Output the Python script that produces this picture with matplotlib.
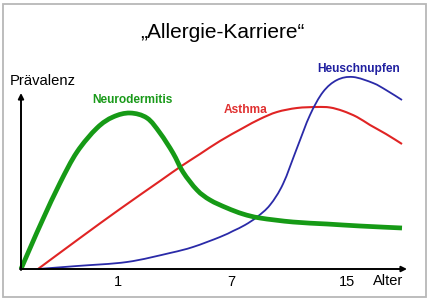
import matplotlib
matplotlib.use("Agg")
import matplotlib.pyplot as plt
from matplotlib.patches import Rectangle, PathPatch
from matplotlib.path import Path

plt.rcParams['font.family'] = ['Liberation Sans', 'DejaVu Sans']

# Werte (x: Achsenposition, y: Prävalenz, willkürliche Einheiten)
neuro_x = [0, 10, 22, 39, 56, 76, 92, 109, 126, 139, 152, 162, 176, 189, 206, 222, 239, 272, 306, 339, 381]
neuro_y = [0, 23, 50, 86, 117, 141, 152, 156, 151, 136, 116, 97, 79, 69, 61, 55, 51, 47, 45, 43, 41]

asthma_x = [17, 59, 99, 139, 159, 179, 199, 222, 239, 256, 276, 296, 309, 322, 336, 349, 365, 381]
asthma_y = [0, 31, 60, 88, 102, 115, 128, 141, 150, 157, 161, 162, 161.5, 158, 152, 144, 135, 125]

heu_x = [17, 56, 106, 149, 172, 199, 212, 224, 236, 249, 262, 276, 289, 302, 316, 332, 352, 365, 381]
heu_y = [0, 3, 7, 16, 22, 32, 38, 44, 52, 64, 85, 121, 154, 177, 189, 192, 186, 179, 169]

tick_pos = [97, 210, 326]
tick_labels = ['1', '7', '15']


# glatte Kurve durch die Punkte (Catmull-Rom als Bezier-Pfad)
def smooth_path(xs, ys):
    pts = list(zip(xs, ys))
    verts = [pts[0]]
    codes = [Path.MOVETO]
    for i in range(len(pts) - 1):
        p0 = pts[i - 1] if i > 0 else pts[i]
        p1 = pts[i]
        p2 = pts[i + 1]
        p3 = pts[i + 2] if i + 2 < len(pts) else pts[i + 1]
        c1 = (p1[0] + (p2[0] - p0[0]) / 6, p1[1] + (p2[1] - p0[1]) / 6)
        c2 = (p2[0] - (p3[0] - p1[0]) / 6, p2[1] - (p3[1] - p1[1]) / 6)
        verts += [c1, c2, p2]
        codes += [Path.CURVE4] * 3
    return Path(verts, codes)


fig = plt.figure(figsize=(4.3, 3.02), dpi=100)
fig.patches.append(Rectangle((3 / 430, 1 - 297 / 302), 423 / 430, 293 / 302,
                             transform=fig.transFigure, fill=False,
                             edgecolor='#b8b8b8', lw=1.3))

ax = fig.add_axes([21 / 430, 33 / 302, 385 / 430, 175 / 302])
ax.set_xlim(0, 385)
ax.set_ylim(0, 175)
for s in ax.spines.values():
    s.set_visible(False)
ax.set_yticks([])
ax.set_xticks(tick_pos, tick_labels, fontsize=10.5)
ax.tick_params(axis='x', length=0, pad=4)

ax.add_patch(PathPatch(smooth_path(asthma_x, asthma_y), fill=False, edgecolor='#e02424',
                       lw=1.5, capstyle='butt', clip_on=False))
ax.add_patch(PathPatch(smooth_path(heu_x, heu_y), fill=False, edgecolor='#2a2aa8',
                       lw=1.3, clip_on=False))
ax.add_patch(PathPatch(smooth_path(neuro_x, neuro_y), fill=False, edgecolor='#169a16',
                       lw=3.4, capstyle='butt', clip_on=False))

# Achsen mit Pfeilen
arrow = dict(arrowstyle='-|>', color='black', lw=1.4, mutation_scale=8, shrinkA=0, shrinkB=0)
ax.annotate('', xy=(386, 0), xytext=(-1, 0), arrowprops=arrow, annotation_clip=False)
ax.annotate('', xy=(0, 176), xytext=(0, -1), arrowprops=arrow, annotation_clip=False)

ax.text(367, -12, 'Alter', fontsize=10.5, ha='center', va='center')
ax.text(-11, 188, 'Prävalenz', fontsize=10.6, ha='left', va='center', clip_on=False)

ax.text(111, 169, 'Neurodermitis', color='#1a9a1a', fontsize=8.6, fontweight='bold', ha='center', va='center')
ax.text(225, 159, 'Asthma', color='#e03030', fontsize=8.6, fontweight='bold', ha='center', va='center')
ax.text(338, 200, 'Heuschnupfen', color='#2020a0', fontsize=8.6, fontweight='bold', ha='center', va='center')

fig.text(222 / 430, 1 - 32 / 302, '„Allergie-Karriere“', fontsize=15, ha='center', va='center')

fig.savefig('out.png', dpi=100)
